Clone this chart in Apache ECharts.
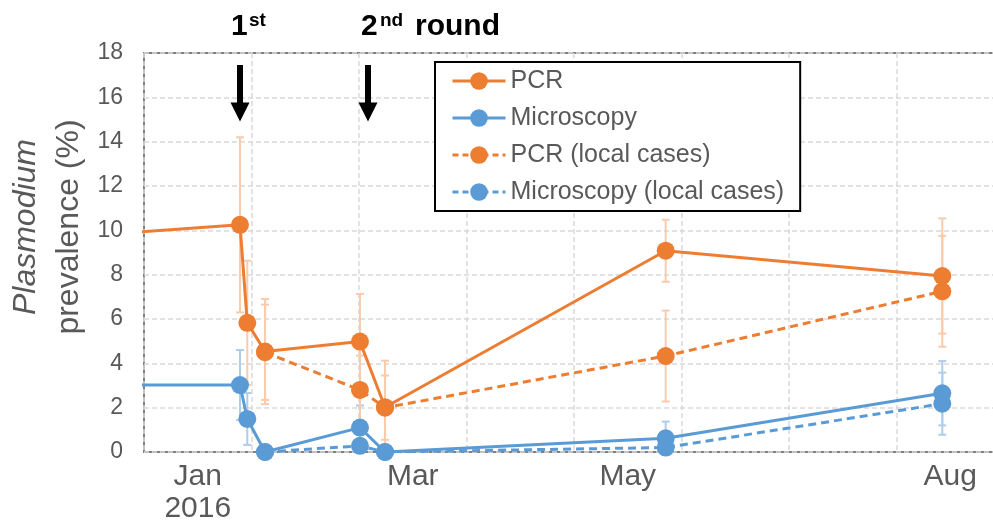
<!DOCTYPE html>
<html>
<head>
<meta charset="utf-8">
<script src="https://cdn.jsdelivr.net/npm/echarts@6/dist/echarts.min.js"></script>
<style>
html,body{margin:0;padding:0;background:#fff;}
#chart{width:993px;height:525px;}
</style>
</head>
<body>
<div id="chart"></div>
<script>
// ---- data (x in months since 1 Jan 2016) ----
const pcrX = [-1.0, 0.893, 0.961, 1.126, 2.009, 2.242, 4.853, 7.426];
const pcrVal = [9.6, 10.25, 5.83, 4.53, 4.98, 2.02, 9.08, 7.94];
const pcrErr = [null, 3.95, 2.8, 2.37, 2.15, 2.1, 1.4, 2.6];

const micX = [-1.0, 0.893, 0.961, 1.126, 2.009, 2.242, 4.853, 7.426];
const micVal = [3.02, 3.02, 1.49, 0, 1.1, 0, 0.62, 2.65];
const micErr = [null, 1.58, 1.17, 0, 1.0, 0, 0.75, 1.45];

const localX = [1.126, 2.009, 2.242, 4.853, 7.426];
const pcrLocalVal = [4.5, 2.8, 2.0, 4.33, 7.25];
const pcrLocalErr = [2.15, 1.55, 1.45, 2.05, 2.5];
const micLocalVal = [0, 0.28, 0, 0.2, 2.18];
const micLocalErr = [0, 0, 0, 0, 1.4];

const seriesNames = ['PCR', 'Microscopy', 'PCR (local cases)', 'Microscopy (local cases)'];
const xLabelPos = [0.5, 2.5, 4.5, 7.5];
const xLabelText = ['Jan\n2016', 'Mar', 'May', 'Aug'];
const yTicks = [0, 18, 2];

const arrowX = [0.893, 2.084];
const arrowFrom = 17.46;
const arrowTo = 15.34;

const ORANGE = '#ED7D31', BLUE = '#5B9BD5';
const ORANGE_L = '#F8CBAD', BLUE_L = '#AFCDEB';
const FONT = "'Liberation Sans', Arial, sans-serif";
const DASH = [8, 5];

function pts(xs, vs) { return xs.map((x, i) => [x, vs[i]]); }
function errPts(xs, vs, es) {
  const out = [];
  xs.forEach((x, i) => { if (es[i]) out.push([x, vs[i] - es[i], vs[i] + es[i]]); });
  return out;
}
function errSeries(data, color) {
  return {
    type: 'custom', xAxisIndex: 0, yAxisIndex: 0, clip: true, z: 1, silent: true,
    data: data,
    renderItem: function (params, api) {
      const lo = api.coord([api.value(0), api.value(1)]);
      const hi = api.coord([api.value(0), api.value(2)]);
      const w = 4;
      const st = { stroke: color, lineWidth: 2 };
      return { type: 'group', children: [
        { type: 'line', shape: { x1: lo[0], y1: lo[1], x2: hi[0], y2: hi[1] }, style: st },
        { type: 'line', shape: { x1: lo[0] - w, y1: lo[1], x2: lo[0] + w, y2: lo[1] }, style: st },
        { type: 'line', shape: { x1: hi[0] - w, y1: hi[1], x2: hi[0] + w, y2: hi[1] }, style: st }
      ]};
    }
  };
}
function lineSeries(name, data, color, dashed) {
  return {
    name: name, type: 'line', data: data, xAxisIndex: 0, yAxisIndex: 0, z: 3,
    symbol: 'circle', symbolSize: 18, clip: true,
    lineStyle: { color: color, width: 3, type: dashed ? DASH : 'solid' },
    itemStyle: { color: color },
    emphasis: { disabled: true }
  };
}

const chart = echarts.init(document.getElementById('chart'), null, { renderer: 'canvas' });

const pcrLine = lineSeries(seriesNames[0], pts(pcrX, pcrVal), ORANGE, false);
pcrLine.markLine = {
  silent: true, symbol: ['none', 'triangle'], symbolSize: [19, 19],
  lineStyle: { color: '#000', width: 6, type: 'solid' },
  label: { show: false },
  data: arrowX.map(x => [{ coord: [x, arrowFrom] }, { coord: [x, arrowTo] }])
};

const legendColors = [ORANGE, BLUE, ORANGE, BLUE];
const legendDashed = [false, false, true, true];

const option = {
  animation: false,
  backgroundColor: '#fff',
  textStyle: { fontFamily: FONT },
  grid: { left: 144, top: 53, width: 860, bottom: 73, show: true, borderColor: '#808080', borderWidth: 2,
          backgroundColor: 'transparent', outerBoundsMode: 'none', containLabel: false },
  xAxis: [
    {
      type: 'value', min: 0, max: 8, interval: 1, position: 'bottom',
      axisLine: { show: false }, axisTick: { show: false }, axisLabel: { show: false },
      splitLine: { show: true, lineStyle: { color: '#D9D9D9', width: 1.5, type: [5, 3] } }
    },
    {
      type: 'value', min: 0, max: 8, interval: 0.5, position: 'bottom',
      axisLine: { show: false }, axisTick: { show: false }, splitLine: { show: false },
      axisLabel: {
        show: true, color: '#595959', fontSize: 30, lineHeight: 32, margin: 9, fontFamily: FONT,
        formatter: function (v) {
          const i = xLabelPos.findIndex(p => Math.abs(p - v) < 1e-6);
          return i >= 0 ? xLabelText[i] : '';
        }
      }
    }
  ],
  yAxis: {
    type: 'value', min: yTicks[0], max: yTicks[1], interval: yTicks[2],
    axisLine: { show: false }, axisTick: { show: false },
    axisLabel: { color: '#595959', fontSize: 23, margin: 21, fontFamily: FONT },
    splitLine: { show: true, lineStyle: { color: '#D9D9D9', width: 1.5, type: [5, 3] } }
  },
  legend: {
    orient: 'vertical', left: 435, top: 62,
    backgroundColor: '#fff', borderColor: '#000', borderWidth: 2,
    padding: [6, 16, 6, 16], itemWidth: 53, itemHeight: 22, itemGap: 11,
    selectedMode: false,
    textStyle: { color: '#595959', fontSize: 25, lineHeight: 26, fontFamily: FONT },
    data: seriesNames.map((n, i) => ({
      name: n,
      lineStyle: { width: 3, color: legendColors[i], type: legendDashed[i] ? [6, 4] : 'solid' }
    }))
  },
  graphic: [
    { type: 'text', left: 231, top: 12, style: { text: '1', font: 'bold 30px ' + FONT, fill: '#000' } },
    { type: 'text', left: 249, top: 11, style: { text: 'st', font: 'bold 19px ' + FONT, fill: '#000' } },
    { type: 'text', left: 361, top: 12, style: { text: '2', font: 'bold 30px ' + FONT, fill: '#000' } },
    { type: 'text', left: 380, top: 11, style: { text: 'nd', font: 'bold 19px ' + FONT, fill: '#000' } },
    { type: 'text', left: 415, top: 12, style: { text: 'round', font: 'bold 30px ' + FONT, fill: '#000' } },
    { type: 'text', x: 26, y: 227, rotation: Math.PI / 2,
      style: { text: 'Plasmodium', font: 'italic 32px ' + FONT, fill: '#595959', align: 'center', verticalAlign: 'middle' } },
    { type: 'text', x: 69, y: 227, rotation: Math.PI / 2,
      style: { text: 'prevalence (%)', font: '32px ' + FONT, fill: '#595959', align: 'center', verticalAlign: 'middle' } }
  ],
  series: [
    errSeries(errPts(pcrX, pcrVal, pcrErr), ORANGE_L),
    errSeries(errPts(micX, micVal, micErr), BLUE_L),
    errSeries(errPts(localX, pcrLocalVal, pcrLocalErr), ORANGE_L),
    errSeries(errPts(localX, micLocalVal, micLocalErr), BLUE_L),
    pcrLine,
    lineSeries(seriesNames[1], pts(micX, micVal), BLUE, false),
    lineSeries(seriesNames[2], pts(localX, pcrLocalVal), ORANGE, true),
    lineSeries(seriesNames[3], pts(localX, micLocalVal), BLUE, true)
  ]
};
chart.setOption(option);
</script>
</body>
</html>
